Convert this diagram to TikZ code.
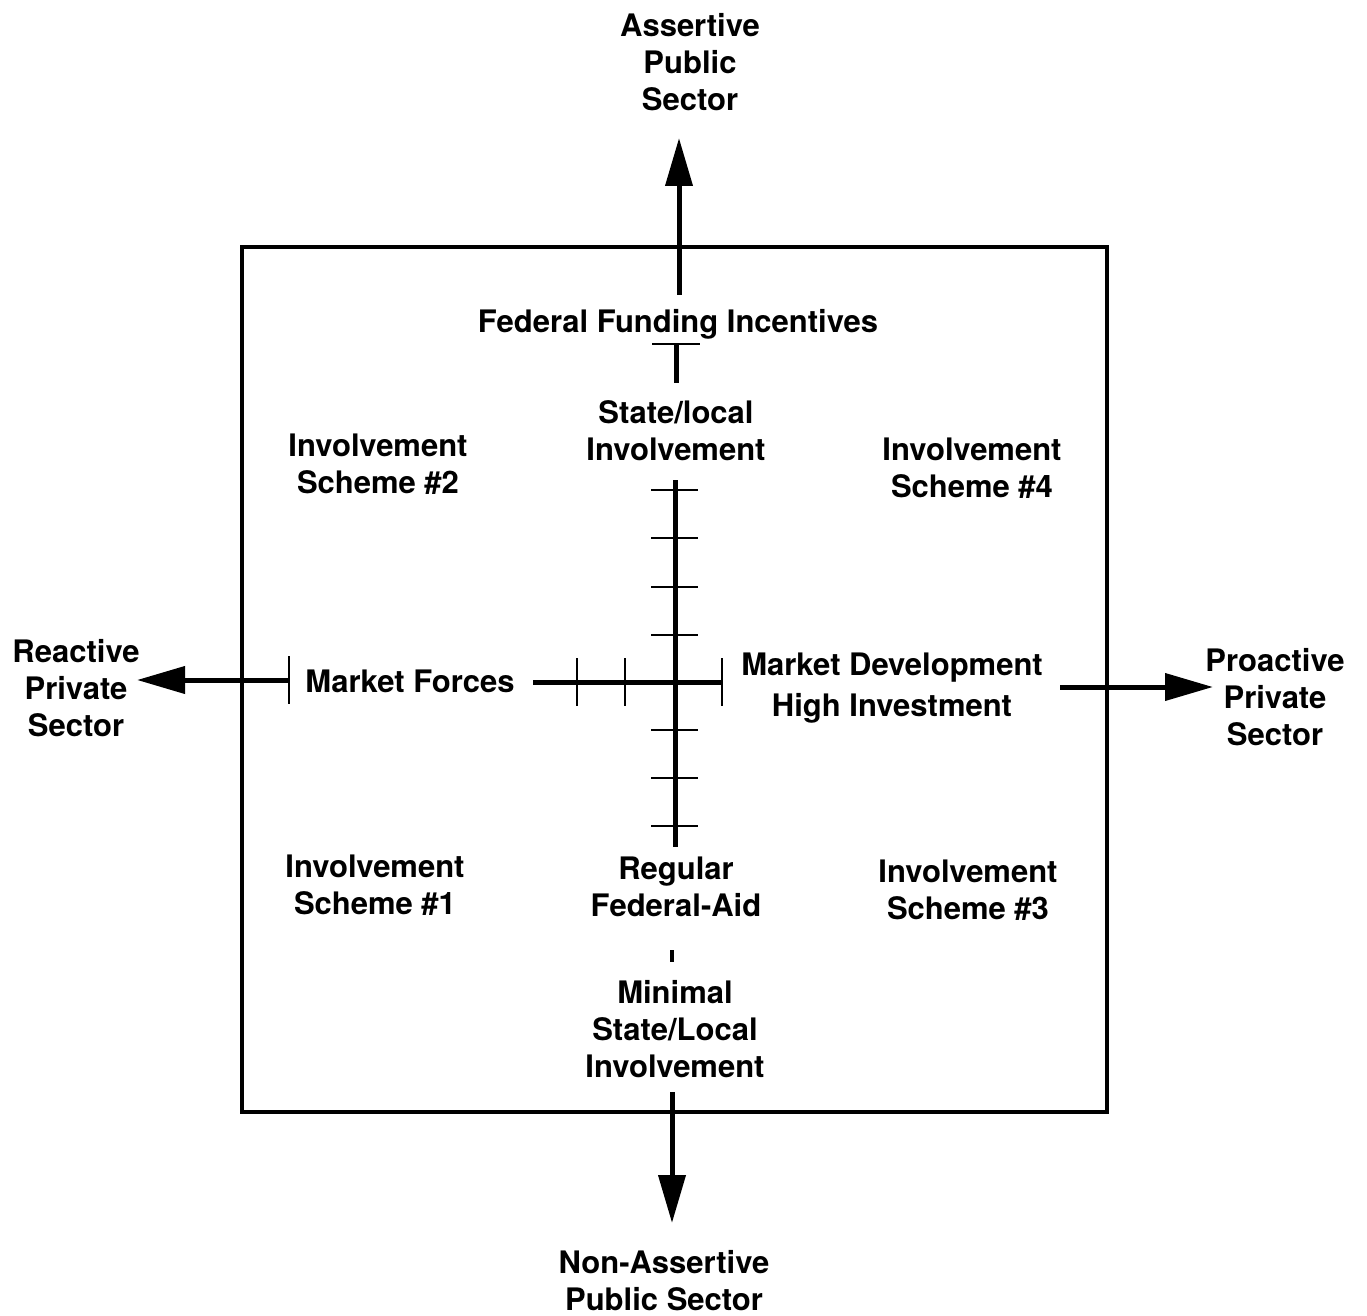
\documentclass[tikz,border=0pt]{standalone}
\usepackage{fontspec}
\setmainfont{TeX Gyre Heros}
\usetikzlibrary{arrows.meta}
\begin{document}
\begin{tikzpicture}[x=0.75pt,y=-0.75pt,
  lbl/.style={align=center,inner sep=0pt,font=\fontsize{23.25}{27.75}\selectfont\bfseries},
  axis/.style={line width=3.75pt},
  bigarrow/.style={line width=3.75pt,-{Triangle[length=36pt,width=20pt]}},
  tick/.style={line width=1.4pt},
  frame/.style={line width=2.4pt}]
\useasboundingbox (0,0) rectangle (1367,1316);

% frame
\node[frame,draw,minimum width=865*0.75pt,minimum height=865*0.75pt,inner sep=0pt] (box) at (674.5,679.5) {};

% labels
\node[lbl] (assertive) at (690,62) {Assertive\\Public\\Sector};
\node[lbl] (fedfund) at (678,324) {Federal Funding Incentives};
\node[lbl] (stateloc) at (676,431) {State/local\\Involvement};
\node[lbl] (scheme2) at (378,464) {Involvement\\Scheme \#2};
\node[lbl] (scheme4) at (972,468) {Involvement\\Scheme \#4};
\node[lbl] (mforces) at (410,681) {Market Forces};
\node[lbl] (mdev) at (892,688) {Market Development\\[3.5pt]High Investment};
\node[lbl] (reactive) at (76,688) {Reactive\\Private\\Sector};
\node[lbl] (proactive) at (1275,697) {Proactive\\Private\\Sector};
\node[lbl] (scheme1) at (375,885) {Involvement\\Scheme \#1};
\node[lbl] (regular) at (676,887) {Regular\\Federal-Aid};
\node[lbl] (scheme3) at (968,890) {Involvement\\Scheme \#3};
\node[lbl] (minimal) at (675,1029) {Minimal\\State/Local\\Involvement};
\node[lbl] (nonassert) at (664,1281) {Non-Assertive\\Public Sector};

% coordinates
\coordinate (upS) at (679,295);
\coordinate (upE) at (679,138);
\coordinate (fT) at (676,344);
\coordinate (fB) at (676,383);
\coordinate (vT) at (675,480);
\coordinate (vB) at (675,847);
\coordinate (hL) at (533,682);
\coordinate (hR) at (722,682);
\coordinate (lS) at (289,680);
\coordinate (lE) at (137,680);
\coordinate (rS) at (1060,687);
\coordinate (rE) at (1213,687);
\coordinate (sT) at (672,950);
\coordinate (sB) at (672,962);
\coordinate (dS) at (672,1092);
\coordinate (dE) at (672,1223);

% arrows out
\draw[bigarrow] (upS) -- (upE);
\draw[bigarrow] (lS) -- (lE);
\draw[bigarrow] (rS) -- (rE);
\draw[bigarrow] (dS) -- (dE);

% axes
\draw[axis] (fT) -- (fB);
\draw[tick] ([xshift=-24*0.75pt]fT) -- ([xshift=24*0.75pt]fT);
\draw[axis] (vT) -- (vB);
\draw[axis] (hL) -- (hR);
\draw[axis,line width=3pt] (sT) -- (sB);
\draw[tick] ([yshift=24*0.75pt]lS) -- ([yshift=-24*0.75pt]lS);

% vertical ticks
\foreach \yy in {490,538,587,635,730,778,826}
  \draw[tick] (651,\yy) -- (698,\yy);
% horizontal ticks
\foreach \xx in {577,625,722}
  \draw[tick] (\xx,658) -- (\xx,706);
\end{tikzpicture}
\end{document}
